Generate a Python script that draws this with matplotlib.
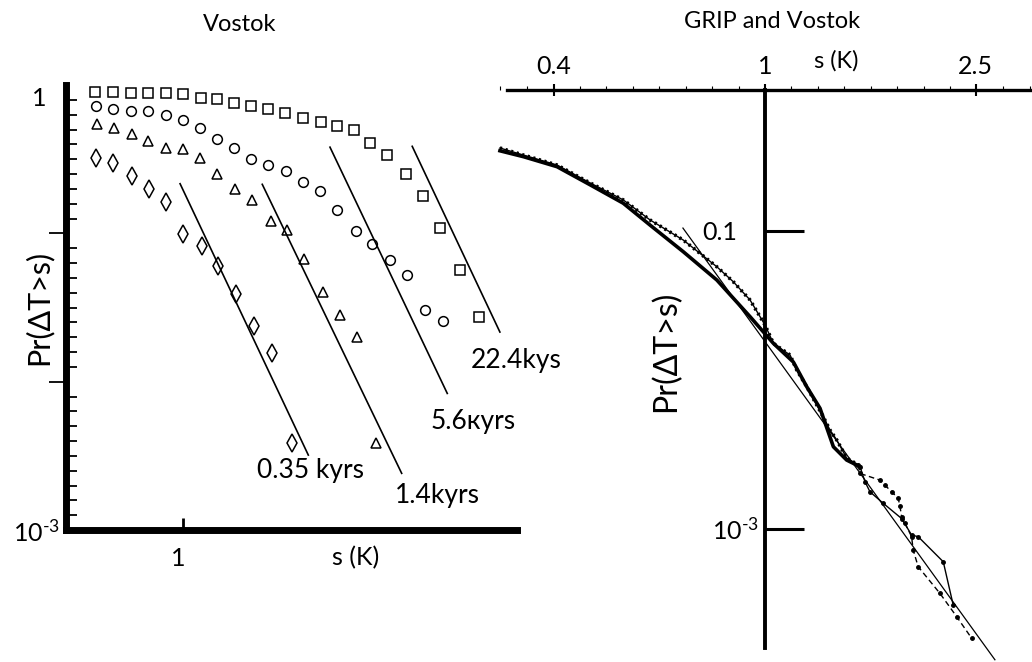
import numpy as np
import matplotlib
matplotlib.use("Agg")
import matplotlib.pyplot as plt
from matplotlib.ticker import FixedLocator, NullLocator, NullFormatter
from matplotlib.transforms import ScaledTranslation

plt.rcParams['font.family'] = ['Lato', 'DejaVu Sans']
plt.rcParams['mathtext.fontset'] = 'custom'
plt.rcParams['mathtext.rm'] = 'Lato'

# ---- left panel: Vostok, Pr(dT > s) for four lags ----
sq_s = [0.563, 0.635, 0.711, 0.797, 0.893, 1.00, 1.125, 1.246, 1.397, 1.558, 1.745, 1.945,
        2.183, 2.455, 2.725, 3.057, 3.386, 3.777, 4.275, 4.794, 5.346, 6.092, 6.895]
sq_p = [0.894, 0.894, 0.886, 0.886, 0.881, 0.872, 0.815, 0.807, 0.759, 0.720, 0.691, 0.646,
        0.598, 0.562, 0.526, 0.494, 0.408, 0.335, 0.252, 0.178, 0.109, 0.0563, 0.0271]

ci_s = [0.567, 0.635, 0.712, 0.797, 0.893, 1.00, 1.117, 1.251, 1.397, 1.558, 1.745, 1.954,
        2.192, 2.444, 2.736, 3.091, 3.438, 3.858, 4.319, 4.848, 5.441]
ci_p = [0.720, 0.691, 0.666, 0.666, 0.623, 0.583, 0.515, 0.434, 0.378, 0.318, 0.287, 0.263,
        0.222, 0.193, 0.144, 0.104, 0.0852, 0.0658, 0.0522, 0.0306, 0.0257]

tr_s = [0.570, 0.638, 0.716, 0.797, 0.895, 1.00, 1.117, 1.251, 1.406, 1.572, 1.772, 1.967,
        2.202, 2.488, 2.785, 3.111, 3.522]
tr_p = [0.542, 0.515, 0.469, 0.418, 0.375, 0.368, 0.324, 0.250, 0.200, 0.167, 0.122, 0.106,
        0.0675, 0.0402, 0.0280, 0.0200, 0.00387]

di_s = [0.567, 0.635, 0.718, 0.801, 0.893, 1.00, 1.130, 1.259, 1.410, 1.589, 1.784, 2.040]
di_p = [0.324, 0.297, 0.243, 0.200, 0.163, 0.0985, 0.0818, 0.0600, 0.0388, 0.0236, 0.0156, 0.00384]

# power law fits (start, end)
fit_s = [[0.981, 2.265], [1.677, 4.165], [2.609, 5.609], [4.462, 7.907]]
fit_p = [[0.216, 0.00320], [0.214, 0.00241], [0.381, 0.00833], [0.386, 0.0216]]

lag_labels = ['0.35 kyrs', '1.4kyrs', '5.6кyrs', '22.4kys']

# ---- right panel: GRIP and Vostok ----
grip_s = [0.316, 0.350, 0.405, 0.468, 0.540, 0.607, 0.701, 0.811, 0.937, 1.037, 1.131, 1.199,
          1.270, 1.346, 1.426, 1.511]
grip_p = [0.344, 0.314, 0.269, 0.203, 0.153, 0.109, 0.0723, 0.0467, 0.0265, 0.01755, 0.01315,
          0.00897, 0.00643, 0.00355, 0.00289, 0.00261]
grip_tail_s = [1.511, 1.544, 1.578, 1.672, 1.811, 1.891, 1.946, 2.170, 2.266]
grip_tail_p = [0.00261, 0.00207, 0.00177, 0.00148, 0.00117, 0.000907, 0.000884, 0.000600, 0.000307]

vostok_s = [0.316, 0.350, 0.405, 0.468, 0.540, 0.607, 0.701, 0.811, 0.871, 0.937, 1.000, 1.037,
            1.067, 1.115, 1.148, 1.199, 1.288, 1.326, 1.366, 1.426, 1.500]
vostok_p = [0.359, 0.322, 0.276, 0.209, 0.161, 0.118, 0.0866, 0.0573, 0.0455, 0.0343, 0.0233,
            0.01755, 0.01632, 0.01465, 0.01162, 0.00897, 0.00564, 0.00460, 0.00394, 0.00298, 0.00268]
vostok_tail_s = [1.500, 1.511, 1.648, 1.684, 1.734, 1.784, 1.798, 1.811, 1.837, 1.891, 1.904,
                 1.946, 2.139, 2.300, 2.455]
vostok_tail_p = [0.00268, 0.00235, 0.00212, 0.00196, 0.00177, 0.00160, 0.00141, 0.00120, 0.00109,
                 0.000884, 0.000719, 0.000556, 0.000368, 0.000257, 0.000184]

qd_s = [0.700, 2.716]
qd_p = [0.1042, 0.000132]

fig = plt.figure(figsize=(10.32, 6.62), dpi=100)

def shift(label, dx, dy):
    label.set_transform(label.get_transform() + ScaledTranslation(dx / 100, dy / 100, fig.dpi_scale_trans))

# ================= right panel (drawn first, left panel on top) =================
ax2 = fig.add_axes([497 / 1032, 0, 535 / 1032, 572 / 662])
ax2.patch.set_visible(False)
ax2.set_xscale('log')
ax2.set_yscale('log')

ax2.plot(grip_s, grip_p, color='black', lw=2.6)
ax2.plot(grip_tail_s, grip_tail_p, color='black', lw=1.0, marker='.', ms=5)
ax2.plot(vostok_s, vostok_p, color='black', lw=1.0)
ax2.plot(vostok_s, vostok_p, color='black', lw=2.6, ls=(0, (0.6, 1.0)))
ax2.plot(vostok_tail_s, vostok_tail_p, color='black', lw=1.0, ls=(0, (4, 2.5)), marker='.', ms=5)
ax2.plot(qd_s, qd_p, color='black', lw=0.9)

ax2.set_xlim(0.312, 3.191)
ax2.set_ylim(1.275e-4, 0.880)
for side in ['bottom', 'right']:
    ax2.spines[side].set_visible(False)
ax2.spines['top'].set_linewidth(2.4)
ax2.spines['top'].set_bounds(0.326, 3.191)
ax2.spines['left'].set_position(('data', 1.0))
ax2.spines['left'].set_linewidth(2.8)
ax2.spines['left'].set_bounds(1.58e-4, 0.880)

ax2.xaxis.tick_top()
ax2.set_xticks([0.4, 1, 2.5])
ax2.set_xticklabels(['0.4', '1', '2.5'])
ax2.xaxis.set_minor_locator(FixedLocator([10 ** (k * 0.05) for k in range(-10, 11) if k not in (-8, 0, 8)]))
ax2.xaxis.set_minor_formatter(NullFormatter())
ax2.tick_params(axis='x', which='major', direction='inout', length=8, width=1.5, pad=5, labelsize=18)
ax2.tick_params(axis='x', which='minor', direction='out', length=3, width=0.8)

ax2.set_yticks([1e-3, 1e-1])
ax2.set_yticklabels([r'$\mathregular{10^{\text{-}3}}$', '0.1'])
ax2.yaxis.set_minor_locator(NullLocator())
ax2.tick_params(axis='y', which='major', direction='in', length=28, width=2.2, pad=4, labelsize=18)
shift(ax2.yaxis.get_major_ticks()[1].label1, -22, 0)

ax2.xaxis.set_label_position('top')
ax2.set_xlabel('s (K)', fontsize=17)
ax2.xaxis.set_label_coords(0.634, 1.0385)
ax2.set_ylabel('Pr(ΔT>s)', fontsize=23)
ax2.yaxis.set_label_coords(0.345, 0.544)
ax2.set_title('GRIP and Vostok', x=0.514, y=1.108, pad=0, fontsize=17)

# ================= left panel =================
ax1 = fig.add_axes([66 / 1032, 132 / 662, 451 / 1032, 445 / 662])
ax1.patch.set_visible(False)
ax1.set_xscale('log')
ax1.set_yscale('log')

mk = dict(ls='none', mfc='white', mec='black', mew=1.1)
ax1.plot(sq_s, sq_p, marker='s', ms=7, **mk)
ax1.plot(ci_s, ci_p, marker='o', ms=7, **mk)
ax1.plot(tr_s, tr_p, marker='^', ms=7, **mk)
ax1.plot(di_s, di_p, marker='d', ms=9, **mk)
for xs, ys in zip(fit_s, fit_p):
    ax1.plot(xs, ys, color='black', lw=1.2)

lag_xy = [(2.305, 0.0025), (5.243, 0.00172), (6.63, 0.00542), (8.78, 0.01396)]
for (x, y), lab in zip(lag_xy, lag_labels):
    ax1.text(x, y, lab, ha='center', va='center', fontsize=19, clip_on=False)

ax1.set_xlim(0.466, 8.84)
ax1.set_ylim(1e-3, 1)
for side in ['top', 'right']:
    ax1.spines[side].set_visible(False)
for side in ['left', 'bottom']:
    ax1.spines[side].set_linewidth(5)

ax1.set_xticks([1])
ax1.set_xticklabels(['1'])
ax1.xaxis.set_minor_locator(NullLocator())
ax1.tick_params(axis='x', which='major', direction='in', length=9, width=2, pad=12, labelsize=18)
shift(ax1.xaxis.get_major_ticks()[0].label1, -5, 0)

ax1.set_yticks([1e-3, 1e-2, 1e-1, 1])
ax1.set_yticklabels([r'$\mathregular{10^{\text{-}3}}$', '', '', '1'])
ax1.yaxis.set_minor_locator(FixedLocator(10 ** (np.arange(-30, 0) / 10)))
ax1.yaxis.set_minor_formatter(NullFormatter())
ax1.tick_params(axis='y', which='major', direction='out', length=12, width=1.3, pad=2, labelsize=18)
ax1.tick_params(axis='y', which='minor', direction='in', length=8, width=1.3)
yt = ax1.yaxis.get_major_ticks()
yt[0].tick1line.set_visible(False)
yt[3].tick1line.set_visible(False)
shift(yt[0].label1, 13, 0)
shift(yt[3].label1, 0, -12)

ax1.set_xlabel('s (K)', fontsize=18)
ax1.xaxis.set_label_coords(0.643, -0.036)
ax1.set_ylabel('Pr(ΔT>s)', fontsize=22)
ax1.yaxis.set_label_coords(-0.029, 0.501)
ax1.set_title('Vostok', x=0.386, y=1.121, pad=0, fontsize=17)

fig.savefig('out.png', dpi=100)
